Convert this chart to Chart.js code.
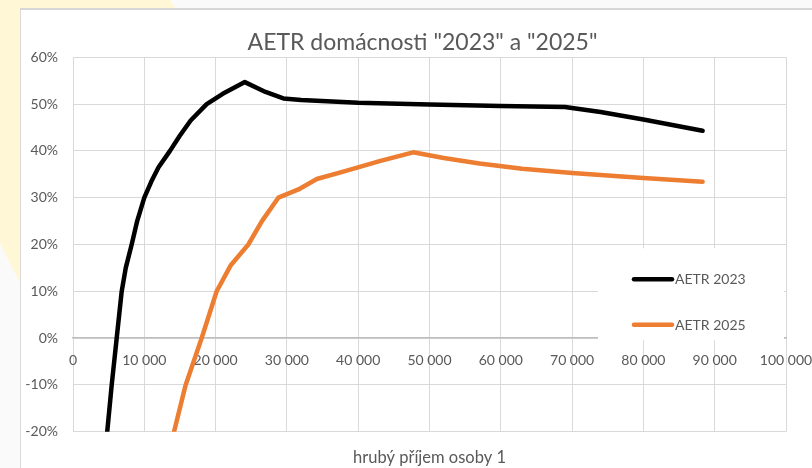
<!DOCTYPE html>
<html>
<head>
<meta charset="utf-8">
<script src="https://cdn.jsdelivr.net/npm/chart.js@4"></script>
<style>
  html, body { margin: 0; padding: 0; }
  body { width: 812px; height: 468px; overflow: hidden; position: relative; background: #fafafa; font-family: Lato, sans-serif; }
  #deco { position: absolute; left: 0; top: 0; width: 812px; height: 468px; background: #fff7d5;
          clip-path: polygon(0 0, 170px 0, 176px 9px, 21px 9px, 21px 285px, 0 243px); }
  #box { position: absolute; left: 20px; top: 8px; width: 792px; height: 460px; background: #fff;
         border-top: 2px solid #d6d6d6; border-left: 1px solid #d9d9d9; }
  #chart { position: absolute; left: 0; top: 0; }
</style>
</head>
<body>
<div id="deco"></div>
<div id="box"><canvas id="chart" width="791" height="458"></canvas></div>
<script>
// hrubý příjem (Kč) and AETR (%)
const income2023 = [4800, 5430, 6130, 6830, 7400, 8230, 9000, 10000, 11000, 12000, 13600, 15000, 16500, 18750, 21000, 24100, 27000, 29500, 32000, 40000, 50000, 60000, 69000, 74000, 80000, 88300];
const aetr2023 = [-20, -10, 0, 10, 15, 20, 25, 30, 33.5, 36.5, 40, 43.3, 46.5, 50, 52.2, 54.7, 52.6, 51.2, 50.9, 50.3, 49.9, 49.6, 49.4, 48.3, 46.7, 44.3];

const income2025 = [14170, 15800, 18050, 20150, 22100, 24590, 26500, 28800, 31800, 34200, 38400, 43000, 47700, 52000, 57000, 63000, 70000, 80000, 88300];
const aetr2025 = [-20, -10, 0, 10, 15.5, 20, 25, 30, 31.9, 34, 35.8, 37.8, 39.7, 38.5, 37.3, 36.2, 35.3, 34.2, 33.4];

const seriesLabels = ['AETR 2023', 'AETR 2025'];
const seriesColors = ['#000000', '#ed7d31'];

const textColor = '#595959';
const gridColor = '#d9d9d9';

function toPoints(xs, ys) {
  return xs.map((x, i) => ({ x: x, y: ys[i] }));
}

function fmtIncome(v) {
  if (v === 0) return '0';
  return (v / 1000) + ' 000';
}

// legend sits inside the plot, lower right, on a white patch
const insideLegend = {
  id: 'insideLegend',
  afterDraw(chart) {
    const ctx = chart.ctx;
    const ca = chart.chartArea;
    ctx.save();
    ctx.fillStyle = '#ffffff';
    ctx.fillRect(ca.right - 188, ca.top + 191, 186, 92);
    chart.data.datasets.forEach((ds, i) => {
      const y = ca.top + 222 + i * 45.5;
      ctx.beginPath();
      ctx.strokeStyle = ds.borderColor;
      ctx.lineWidth = 4.5;
      ctx.lineCap = 'round';
      ctx.moveTo(ca.right - 152, y);
      ctx.lineTo(ca.right - 114, y);
      ctx.stroke();
      ctx.fillStyle = textColor;
      ctx.font = '14px Lato';
      ctx.textAlign = 'left';
      ctx.textBaseline = 'middle';
      ctx.fillText(ds.label, ca.right - 111, y + 0.5);
    });
    ctx.restore();
  }
};

new Chart(document.getElementById('chart'), {
  type: 'line',
  data: {
    datasets: [
      {
        label: seriesLabels[0],
        data: toPoints(income2023, aetr2023),
        borderColor: seriesColors[0],
        backgroundColor: seriesColors[0],
      },
      {
        label: seriesLabels[1],
        data: toPoints(income2025, aetr2025),
        borderColor: seriesColors[1],
        backgroundColor: seriesColors[1],
      }
    ]
  },
  options: {
    responsive: false,
    animation: false,
    // negative right padding only widens the title box so it centres like Excel;
    // the plot's right edge comes from the x scale padding below
    layout: { padding: { left: 0, right: -12, top: 0, bottom: 0 } },
    elements: {
      line: { borderWidth: 4.5, tension: 0, borderCapStyle: 'round', borderJoinStyle: 'round' },
      point: { radius: 0, hoverRadius: 0 }
    },
    plugins: {
      legend: { display: false },
      tooltip: { enabled: false },
      title: {
        display: true,
        text: 'AETR domácnosti "2023" a "2025"',
        color: textColor,
        font: { family: 'Lato', size: 23, weight: 'normal' },
        padding: { top: 18.5, bottom: 1.2 }
      },
      subtitle: {
        display: true,
        position: 'bottom',
        fullSize: false,
        text: 'hrubý příjem osoby 1',
        color: textColor,
        font: { family: 'Lato', size: 16.5, weight: 'normal' },
        padding: { top: 16, bottom: 0.5 }
      }
    },
    scales: {
      x: {
        type: 'linear',
        position: { y: 0 },
        min: 0,
        max: 100000,
        ticks: {
          stepSize: 10000,
          color: textColor,
          font: { family: 'Lato', size: 14 },
          padding: 14,
          maxRotation: 0,
          autoSkip: false,
          callback: v => fmtIncome(v)
        },
        grid: { color: gridColor, lineWidth: 1, drawTicks: false },
        border: { display: true, color: '#bfbfbf', width: 1.5 },
        afterFit(scale) { scale.paddingLeft = 0; scale.paddingRight = 26; }
      },
      y: {
        min: -20,
        max: 60,
        ticks: {
          stepSize: 10,
          color: textColor,
          font: { family: 'Lato', size: 14 },
          padding: 15,
          callback: v => v + '%'
        },
        grid: { color: gridColor, lineWidth: 1, drawTicks: false },
        border: { display: false },
        afterFit(scale) { scale.width = 52; }
      }
    }
  },
  plugins: [insideLegend]
});
</script>
</body>
</html>
